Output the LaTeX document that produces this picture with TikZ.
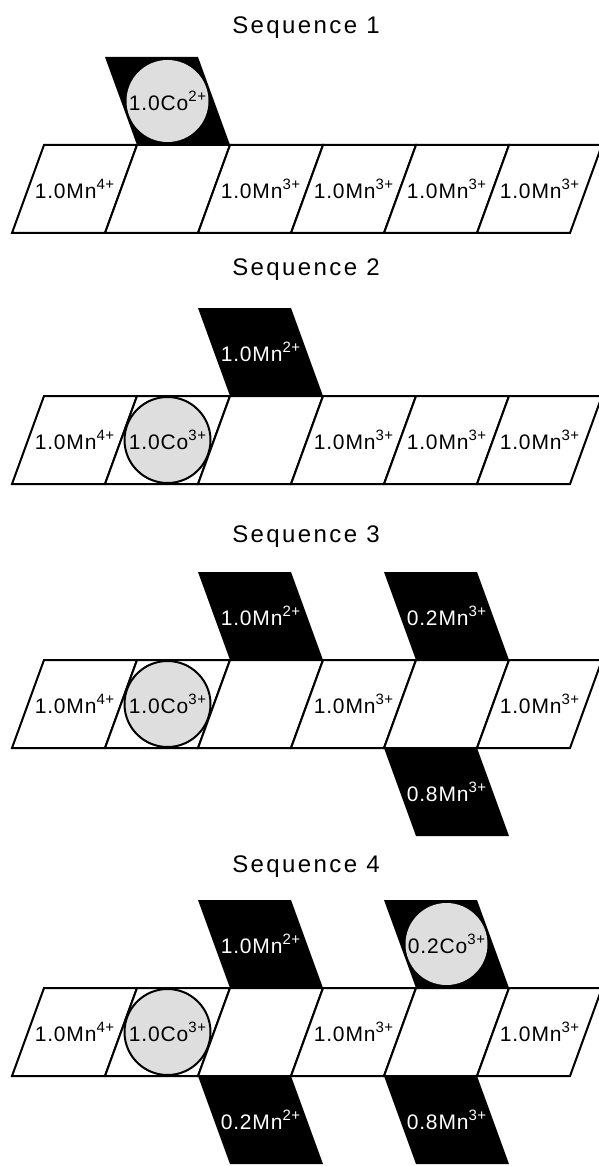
\documentclass[tikz,border=0pt]{standalone}
\usepackage{fontspec}
\setmainfont{Liberation Sans}
\newfontfamily\headfont[LetterSpace=10]{Liberation Sans}
\newfontfamily\ionfont[LetterSpace=4]{Liberation Sans}

\tikzset{
  cellbox/.style={draw, line width=2pt, fill=white, line join=miter},
  dotball/.style={fill=black!13},
  ringball/.style={draw, line width=2pt, fill=black!13},
  ion/.style={font=\ionfont\fontsize{21}{22}\selectfont, inner sep=0pt},
  whiteion/.style={ion, text=white},
  seqtitle/.style={font=\headfont\fontsize{24}{26}\selectfont}
}
\newcommand\chg[1]{\raisebox{0.45em}{\fontsize{15}{15}\selectfont#1}}
% strip of six cells, top edge at y=#1
\newcommand\cellrow[1]{%
  \foreach \i in {0,...,5}
    \draw[cellbox] ({44+93*\i},#1) -- ({137+93*\i},#1) -- ({105+93*\i},#1+88) -- ({12+93*\i},#1+88) -- cycle;}
% black piece above / below cell #1 of the strip at y=#2
\newcommand\upblack[2]{\fill ({44+93*#1},#2) -- ({137+93*#1},#2) -- ({105+93*#1},#2-88) -- ({12+93*#1},#2-88) -- cycle;}
\newcommand\downblack[2]{\fill ({12+93*#1},#2+88) -- ({105+93*#1},#2+88) -- ({137+93*#1},#2+176) -- ({44+93*#1},#2+176) -- cycle;}

\begin{document}
\begin{tikzpicture}[x=1pt,y=-1pt]
\useasboundingbox (0,0) rectangle (599,1166);

% Sequence 1
\node[seqtitle] (t1) at (306,28) {Sequence 1};
\upblack{1}{145}
\cellrow{145}
\fill[dotball] (167.5,101) circle[radius=41pt];
\node[ion] (s1a) at (74.5,189) {1.0Mn\chg{4+}};
\node[ion] (s1co) at (167.5,101) {1.0Co\chg{2+}};
\foreach \i in {2,...,5}
  \node[ion] (s1m\i) at ({74.5+93*\i},189) {1.0Mn\chg{3+}};

% Sequence 2
\node[seqtitle] (t2) at (306,270) {Sequence 2};
\upblack{2}{396}
\cellrow{396}
\draw[ringball] (167.5,440) circle[radius=43pt];
\node[ion] (s2a) at (74.5,440) {1.0Mn\chg{4+}};
\node[ion] (s2co) at (167.5,440) {1.0Co\chg{3+}};
\node[whiteion] (s2up) at (260.5,352) {1.0Mn\chg{2+}};
\foreach \i in {3,...,5}
  \node[ion] (s2m\i) at ({74.5+93*\i},440) {1.0Mn\chg{3+}};

% Sequence 3
\node[seqtitle] (t3) at (306,537) {Sequence 3};
\upblack{2}{660}
\upblack{4}{660}
\downblack{4}{660}
\cellrow{660}
\draw[ringball] (167.5,704) circle[radius=43pt];
\node[ion] (s3a) at (74.5,704) {1.0Mn\chg{4+}};
\node[ion] (s3co) at (167.5,704) {1.0Co\chg{3+}};
\node[ion] (s3m3) at (353.5,704) {1.0Mn\chg{3+}};
\node[ion] (s3m5) at (539.5,704) {1.0Mn\chg{3+}};
\node[whiteion] (s3up) at (260.5,616) {1.0Mn\chg{2+}};
\node[whiteion] (s3upb) at (446.5,616) {0.2Mn\chg{3+}};
\node[whiteion] (s3dn) at (446.5,792) {0.8Mn\chg{3+}};

% Sequence 4
\node[seqtitle] (t4) at (306,867) {Sequence 4};
\upblack{2}{988}
\upblack{4}{988}
\downblack{2}{988}
\downblack{4}{988}
\cellrow{988}
\draw[ringball] (167.5,1032) circle[radius=43pt];
\fill[dotball] (446.5,944) circle[radius=41pt];
\node[ion] (s4a) at (74.5,1032) {1.0Mn\chg{4+}};
\node[ion] (s4co) at (167.5,1032) {1.0Co\chg{3+}};
\node[ion] (s4m3) at (353.5,1032) {1.0Mn\chg{3+}};
\node[ion] (s4m5) at (539.5,1032) {1.0Mn\chg{3+}};
\node[whiteion] (s4up) at (260.5,944) {1.0Mn\chg{2+}};
\node[ion] (s4cob) at (446.5,944) {0.2Co\chg{3+}};
\node[whiteion] (s4dn) at (260.5,1120) {0.2Mn\chg{2+}};
\node[whiteion] (s4dnb) at (446.5,1120) {0.8Mn\chg{3+}};
\end{tikzpicture}
\end{document}
